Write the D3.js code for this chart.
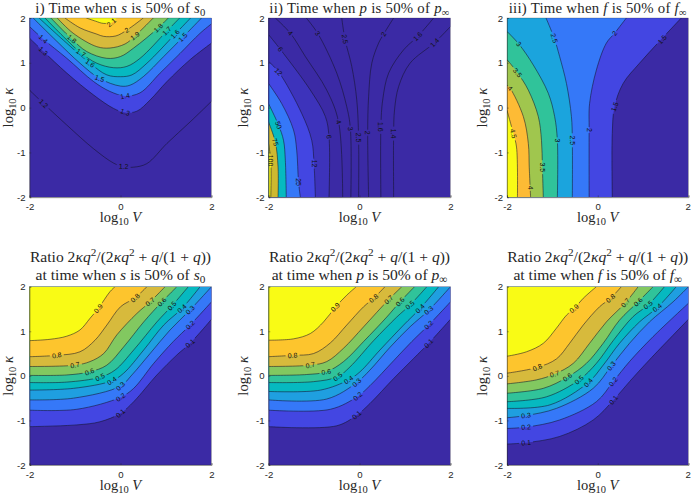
<!DOCTYPE html>
<html><head><meta charset="utf-8">
<script src="https://cdnjs.cloudflare.com/ajax/libs/d3/7.8.5/d3.min.js"></script>
<style>html,body{margin:0;background:#fff}svg{display:block}</style></head><body>
<svg id="c" width="691" height="497"></svg>
<script>
// ---------- values (log10 V, log10 kappa) ----------
const DARK="#3b2aa5", C2="#4346e2", C3="#3578f8", C4="#1ba4dd", C5="#06b9c0", C6="#30c39a", C7="#82c860", C8="#d7ba3c", C9="#fdc52d", C10="#f9fb15";
const s50Levels=[1.2,1.3,1.4,1.5,1.6,1.7,1.8,1.9,2,2.1];
const s50Fills=[DARK,DARK,C2,C3,C4,C5,C6,C7,C8,C9,C10];
const s50Lines=[
[[-2,.39],[-1.69,.09],[-1.18,-.39],[-.59,-.92],[-.15,-1.24],[.07,-1.32],[.29,-1.33],[.58,-1.25],[1.02,-.8],[1.53,-.32],[2,.14]],
[[-2,1.55],[-1.69,1.25],[-1.18,.77],[-.59,.28],[-.15,-.02],[.1,-.11],[.36,-.08],[.65,.17],[1.02,.58],[1.53,1.07],[2,1.44]],
[[-2,1.81],[-1.7,1.53],[-1.18,1.1],[-.59,.58],[-.23,.36],[.1,.26],[.43,.33],[.87,.77],[1.31,1.21],[1.75,1.66],[2,1.87]],
[[-1.92,2],[-1.4,1.48],[-.89,.99],[-.46,.65],[0,.48],[.21,.5],[.5,.69],[.95,1.14],[1.37,1.57],[1.78,2]],
[[-1.79,2],[-1.25,1.5],[-.67,.99],[-.3,.73],[0,.69],[.25,.73],[.58,.99],[1.2,1.64],[1.54,2]],
[[-1.66,2],[-1.25,1.58],[-.87,1.22],[-.52,.99],[-.15,.89],[.14,.92],[.43,1.1],[1.02,1.71],[1.3,2]],
[[-1.53,2],[-1.07,1.53],[-.74,1.25],[-.3,1.1],[0,1.14],[.29,1.33],[.83,1.78],[1.05,2]],
[[-1.39,2],[-1.04,1.66],[-.52,1.36],[-.23,1.33],[.1,1.42],[.32,1.6],[.72,2]],
[[-1.22,2],[-.89,1.78],[-.52,1.64],[-.37,1.59],[-.1,1.6],[.14,1.73],[.5,2]],
[[-.75,2],[-.55,1.93],[-.38,1.88],[-.2,1.9],[-.08,2]]];
const s50Labels=[[0,-1.69,.09],[0,.07,-1.31],[1,-1.7,1.26],[1,.1,-.1],[2,-1.7,1.53],[2,.1,.26],[3,-.46,.65],[3,1.37,1.57],[4,-.67,.99],[4,1.2,1.64],[5,-.87,1.22],[5,1.02,1.71],[6,-1.07,1.53],[6,.83,1.78],[7,.32,1.6],[8,.14,1.73],[9,-.2,1.9]];

const p50Levels=[1.4,1.6,2,2.5,3,4,6,12,25,50,75,100];
const p50Fills=[DARK,DARK,DARK,DARK,DARK,DARK,DARK,"#3d33bb",C2,C3,C5,"#cdb92f",C10];
const p50Lines=[
[[.75,-2],[.75,-.58],[.77,-.05],[.86,.47],[1.11,.99],[1.65,1.45],[2,1.81]],
[[.47,-2],[.47,-.43],[.51,.17],[.64,.77],[.97,1.29],[1.28,1.59],[1.63,2]],
[[.2,-2],[.18,-.56],[.2,.24],[.27,.99],[.42,1.44],[.53,1.64],[.75,2]],
[[-.02,-2],[-.02,-.67],[-.06,.17],[-.17,.92],[-.32,1.53],[-.39,2]],
[[-.19,-2],[-.2,-.47],[-.28,.02],[-.5,.77],[-.92,1.66],[-1.17,2]],
[[-.37,-2],[-.46,-.32],[-.72,.39],[-1.19,1.14],[-1.52,1.66],[-1.85,2]],
[[-.67,-2],[-.67,-.65],[-.75,-.2],[-1.08,.39],[-1.74,1.3],[-2,1.63]],
[[-.97,-2],[-1,-1.25],[-1.05,-.73],[-1.27,-.13],[-1.78,.8],[-2,1.03]],
[[-1.3,-2],[-1.34,-1.66],[-1.38,-.95],[-1.45,-.5],[-1.71,.09],[-2,.54]],
[[-1.61,-2],[-1.63,-1.18],[-1.67,-.73],[-1.78,-.39],[-2,.09]],
[[-1.79,-2],[-1.79,-1.33],[-1.85,-.77],[-2,-.32]],
[[-1.95,-2],[-1.95,-1.18],[-2,-.8]]];
const p50Labels=[[0,.75,-.58],[0,1.65,1.45],[1,.47,-.43],[1,1.28,1.59],[2,.18,-.56],[2,.53,1.64],[3,-.02,-.67],[3,-.32,1.53],[4,-.2,-.47],[4,-.92,1.66],[5,-.46,-.32],[5,-1.52,1.66],[6,-.67,-.65],[6,-1.74,1.3],[7,-1,-1.25],[7,-1.78,.8],[8,-1.34,-1.66],[9,-1.78,-.39],[10,-1.85,-.77],[11,-1.95,-1.18]];

const f50Levels=[1.5,2,2.5,3,3.5,4,4.5];
const f50Fills=[DARK,C2,C3,C4,C6,"#a0c64e","#fdbb35",C10];
const f50Lines=[
[[.32,-2],[.32,-.58],[.37,.02],[.56,.54],[.92,.99],[1.36,1.48],[1.84,2]],
[[-.19,-2],[-.19,-.5],[-.18,.09],[-.03,.84],[.19,1.44],[.37,1.66],[.63,2]],
[[-.56,-2],[-.56,-.73],[-.58,-.2],[-.69,.54],[-.84,1.14],[-.96,1.55],[-1.14,2]],
[[-.89,-2],[-.89,-.73],[-.95,-.2],[-1.09,.32],[-1.42,.95],[-1.74,1.42],[-2,1.7]],
[[-1.2,-2],[-1.22,-1.33],[-1.24,-.73],[-1.31,-.2],[-1.53,.39],[-1.77,.78],[-2,1.07]],
[[-1.48,-2],[-1.51,-1.33],[-1.53,-.8],[-1.64,-.2],[-1.93,.43],[-2,.5]],
[[-1.77,-2],[-1.79,-.88],[-1.86,-.58],[-2,-.06]]];
const f50Labels=[[0,.37,.02],[0,1.42,1.52],[1,-.19,-.5],[1,.37,1.66],[2,-.56,-.73],[2,-.96,1.55],[3,-.89,-.73],[3,-1.74,1.42],[4,-1.22,-1.33],[4,-1.77,.78],[5,-1.49,-1.79],[5,-1.93,.43],[6,-1.86,-.58]];

const ratioLevels=[.1,.2,.3,.4,.5,.6,.7,.8,.9];
const ratioFills=[DARK,C2,C3,"#1f9fe0",C5,C6,C7,C8,C9,C10];
const ratioSLines=[
[[-2,-1.14],[-.96,-1.1],[-.45,-1.03],[0,-.84],[.29,-.58],[.8,.02],[1.24,.47],[1.53,.73],[2,1.27]],
[[-2,-.77],[-.96,-.75],[0,-.48],[.29,-.28],[.73,.28],[1.16,.77],[1.53,1.14],[2,1.66]],
[[-2,-.54],[-1.03,-.5],[0,-.23],[.25,.02],[.65,.5],[1.09,1.03],[1.53,1.48],[2,2]],
[[-2,-.32],[-1.03,-.28],[-.19,-.11],[.07,.06],[.51,.58],[.95,1.14],[1.35,1.51],[1.75,2]],
[[-2,-.15],[-1.18,-.14],[-.45,-.03],[-.12,.13],[.29,.58],[.8,1.21],[1.13,1.57],[1.49,2]],
[[-2,.01],[-1.18,.02],[-.68,.09],[-.3,.24],[.07,.65],[.51,1.21],[.91,1.66],[1.24,2]],
[[-2,.21],[-1,.24],[-.67,.32],[-.37,.5],[-.08,.92],[.36,1.4],[.65,1.66],[.98,2]],
[[-2,.43],[-1.4,.46],[-.89,.54],[-.56,.8],[-.3,1.14],[0,1.55],[.32,1.75],[.58,2]],
[[-2,.79],[-1.55,.82],[-1.18,.89],[-.89,1.03],[-.67,1.29],[-.49,1.51],[-.23,1.89],[-.12,2]]];
const ratioSLabels=[[0,0,-.84],[0,1.53,.73],[1,0,-.48],[1,1.53,1.14],[2,0,-.23],[2,1.53,1.48],[3,-.19,-.11],[3,1.35,1.51],[4,-.45,-.03],[4,1.13,1.57],[5,-.68,.09],[5,.91,1.66],[6,-1,.24],[6,.65,1.66],[7,-1.4,.46],[7,.32,1.75],[8,-.49,1.51]];

const ratioPLines=[
[[-2,-1.14],[-.5,-1.12],[-.06,-.88],[.23,-.62],[.75,-.06],[1.19,.39],[1.52,.73],[2,1.27]],
[[-2,-.77],[-.64,-.75],[-.04,-.46],[.23,-.22],[.75,.34],[1.15,.77],[1.52,1.14],[2,1.66]],
[[-2,-.54],[-.72,-.52],[-.06,-.15],[.23,.13],[.67,.64],[1.11,1.1],[1.52,1.47],[2,2]],
[[-2,-.35],[-.86,-.32],[-.24,-.09],[.01,.09],[.45,.58],[.97,1.14],[1.33,1.51],[1.74,2]],
[[-2,-.15],[-1.01,-.13],[-.48,-.02],[-.21,.2],[.31,.79],[.82,1.32],[1.11,1.59],[1.48,2]],
[[-2,.01],[-1.16,.03],[-.73,.09],[-.35,.32],[.09,.77],[.6,1.32],[.89,1.66],[1.21,2]],
[[-2,.21],[-1.08,.24],[-.72,.32],[-.35,.62],[.09,1.1],[.64,1.71],[.93,2]],
[[-2,.43],[-1.47,.46],[-1.01,.5],[-.64,.74],[-.28,1.14],[.09,1.55],[.31,1.74],[.56,2]],
[[-2,.8],[-1.45,.83],[-1.08,.95],[-.79,1.21],[-.53,1.54],[-.28,1.81],[-.07,2]]];
const ratioPLabels=[[0,-.06,-.88],[0,1.52,.73],[1,-.04,-.46],[1,1.52,1.14],[2,-.06,-.15],[2,1.52,1.47],[3,-.24,-.09],[3,1.33,1.51],[4,-.48,-.02],[4,1.11,1.59],[5,-.73,.09],[5,.89,1.66],[6,-1.08,.24],[6,.64,1.71],[7,-1.47,.46],[7,.31,1.74],[8,-.53,1.54]];

const ratioFLines=[
[[-2,-1.53],[-1.58,-1.5],[-.84,-1.36],[-.1,-.99],[.35,-.54],[.7,-.13],[1.14,.36],[2,1.27]],
[[-2,-1.18],[-1.58,-1.15],[-.84,-.99],[-.03,-.58],[.34,-.13],[.7,.32],[1.22,.88],[2,1.63]],
[[-2,-.94],[-1.58,-.89],[-.91,-.73],[-.1,-.28],[.3,.22],[.7,.73],[1.14,1.21],[1.66,1.66],[2,2]],
[[-2,-.73],[-1.05,-.65],[-.21,-.15],[.12,.24],[.48,.73],[.92,1.21],[1.31,1.53],[1.73,2]],
[[-2,-.58],[-1.13,-.47],[-.41,-.09],[-.03,.28],[.34,.79],[.78,1.33],[1.11,1.59],[1.47,2]],
[[-2,-.39],[-1.2,-.28],[-.67,-.03],[-.25,.28],[.12,.73],[.48,1.25],[.89,1.66],[1.22,2]],
[[-2,-.18],[-1.35,-.09],[-.95,.04],[-.54,.28],[-.18,.73],[.19,1.21],[.61,1.64],[.89,2]],
[[-2,.06],[-1.33,.19],[-.91,.38],[-.62,.73],[-.32,1.14],[.04,1.55],[.28,1.74],[.52,2]],
[[-2,.44],[-1.57,.54],[-1.2,.73],[-.91,1.07],[-.69,1.36],[-.52,1.51],[-.32,1.74],[-.03,2]]];
const ratioFLabels=[[0,-1.58,-1.5],[0,.35,-.54],[1,-1.58,-1.15],[1,.34,-.13],[2,-1.58,-.89],[2,.3,.22],[3,-.21,-.15],[3,1.31,1.53],[4,-.41,-.09],[4,1.11,1.59],[5,-.67,-.03],[5,.89,1.66],[6,-.95,.04],[6,.61,1.64],[7,-1.33,.19],[7,.28,1.74],[8,-.52,1.51]];

const xTicks=[-2,0,2], yTicks=[-2,-1,0,1,2];
const ratioTitle=[["Ratio 2"],["κ","i"],["q","i"],["2","sup"],["/(2"],["κ","i"],["q","i"],["2","sup"],[" + "],["q","i"],["/(1 + "],["q","i"],["))"]];
const atTime=(v,sub)=>[["at time when "],[v,"i"],[" is 50% of "],[v,"i"],[sub,"sub"]];
const panels=[
 {col:0,row:0,levels:s50Levels,fills:s50Fills,lines:s50Lines,labels:s50Labels,title:[[["i) Time when "],["s","i"],[" is 50% of "],["s","i"],["0","sub"]]]},
 {col:1,row:0,levels:p50Levels,fills:p50Fills,lines:p50Lines,labels:p50Labels,title:[[["ii) Time when "],["p","i"],[" is 50% of "],["p","i"],["∞","sub"]]]},
 {col:2,row:0,levels:f50Levels,fills:f50Fills,lines:f50Lines,labels:f50Labels,title:[[["iii) Time when "],["f","i"],[" is 50% of "],["f","i"],["∞","sub"]]]},
 {col:0,row:1,levels:ratioLevels,fills:ratioFills,lines:ratioSLines,labels:ratioSLabels,title:[ratioTitle,atTime("s","0")]},
 {col:1,row:1,levels:ratioLevels,fills:ratioFills,lines:ratioPLines,labels:ratioPLabels,title:[ratioTitle,atTime("p","∞")]},
 {col:2,row:1,levels:ratioLevels,fills:ratioFills,lines:ratioFLines,labels:ratioFLabels,title:[ratioTitle,atTime("f","∞")]}
];

// ---------- layout ----------
const colX=[[29.5,211.5],[268.5,450.5],[507,688.5]];
const rowY=[[18,197.2],[286.7,465]];
const ylabX=[13,248,487];
const svg=d3.select("#c");
const defs=svg.append("defs");
const SERIF="'Liberation Serif','Times New Roman',serif", SANS="'Liberation Sans',Arial,sans-serif";

function richText(g,x,y,segs,size,extra={}){
  const t=g.append("text").attr("x",x).attr("y",y).attr("text-anchor","middle")
    .attr("font-family",SERIF).attr("font-size",size).attr("fill","#262626");
  Object.entries(extra).forEach(([k,v])=>t.attr(k,v));
  let shift=0;
  segs.forEach(([s,k])=>{
    const sp=t.append("tspan").text(s);
    let target=0;
    if(k==="i") sp.attr("font-style","italic");
    if(k==="sup"){target=-size*.38;sp.attr("font-size",size*.72);}
    if(k==="sub"){target=size*.22;sp.attr("font-size",size*.72);}
    sp.attr("dy",target-shift); shift=target;
  });
}
// position of a point on the ccw perimeter of the [-2,2] square
const perim=([x,y])=>{
  if(Math.abs(y+2)<1e-6) return x+2;
  if(Math.abs(x-2)<1e-6) return 4+(y+2);
  if(Math.abs(y-2)<1e-6) return 8+(2-x);
  return 12+(2-y);
};
const corners=[[4,[2,-2]],[8,[2,2]],[12,[-2,2]],[16,[-2,-2]]];

panels.forEach((p,i)=>{
  const [x0,x1]=colX[p.col],[y0,y1]=rowY[p.row];
  const x=d3.scaleLinear([-2,2],[x0,x1]), y=d3.scaleLinear([-2,2],[y1,y0]);
  const g=svg.append("g");
  const clip="clip"+i, mask="mask"+i;
  defs.append("clipPath").attr("id",clip).append("rect").attr("x",x0).attr("y",y0).attr("width",x1-x0).attr("height",y1-y0);
  const line=d3.line().x(d=>x(d[0])).y(d=>y(d[1])).curve(d3.curveCatmullRom.alpha(.5));

  const plot=g.append("g").attr("clip-path",`url(#${clip})`);
  plot.append("rect").attr("x",x0).attr("y",y0).attr("width",x1-x0).attr("height",y1-y0).attr("fill",p.fills[0]);
  plot.selectAll("path.band").data(p.lines).join("path").attr("class","band")
    .attr("fill",(d,k)=>p.fills[k+1])
    .attr("d",d=>{
      const a=perim(d[d.length-1]); let b=perim(d[0]); if(b<a) b+=16;
      const walk=[];
      for(const off of [0,16]) corners.forEach(([t,c])=>{const T=t+off; if(T>a&&T<b) walk.push(c);});
      return line(d)+walk.map(c=>`L${x(c[0])},${y(c[1])}`).join("")+"Z";
    });

  // label geometry: the angle follows the contour under the label
  const labels=p.labels.map(([k,lx,ly])=>{
    const pts=p.lines[k].map(q=>[x(q[0]),y(q[1])]);
    const px=x(lx),py=y(ly);
    let best=0,bd=Infinity;
    for(let s=0;s<pts.length-1;s++){
      const mx=(pts[s][0]+pts[s+1][0])/2,my=(pts[s][1]+pts[s+1][1])/2;
      const dd=(mx-px)**2+(my-py)**2; if(dd<bd){bd=dd;best=s;}
    }
    let ang=Math.atan2(pts[best+1][1]-pts[best][1],pts[best+1][0]-pts[best][0])*180/Math.PI;
    if(ang>90)ang-=180; if(ang<=-90)ang+=180;
    if(Math.abs(Math.abs(ang)-90)<8) ang=90;
    return {text:String(p.levels[k]),x:px,y:py,ang};
  });
  const m=defs.append("mask").attr("id",mask).attr("maskUnits","userSpaceOnUse")
    .attr("x",x0).attr("y",y0).attr("width",x1-x0).attr("height",y1-y0);
  m.append("rect").attr("x",x0).attr("y",y0).attr("width",x1-x0).attr("height",y1-y0).attr("fill","#fff");
  m.selectAll("rect.gap").data(labels).join("rect").attr("class","gap").attr("fill","#000")
    .attr("x",d=>-(d.text.length*2+1)).attr("y",-2.5).attr("width",d=>2*(d.text.length*2+1)).attr("height",5)
    .attr("transform",d=>`translate(${d.x},${d.y}) rotate(${d.ang})`);
  plot.append("g").attr("mask",`url(#${mask})`).selectAll("path").data(p.lines).join("path")
    .attr("fill","none").attr("stroke","#141428").attr("stroke-width",.55).attr("d",line);
  plot.selectAll("text").data(labels).join("text")
    .attr("text-anchor","middle").attr("dy","0.35em").attr("font-family",SANS).attr("font-size",6.9).attr("fill","#111")
    .attr("transform",d=>`translate(${d.x},${d.y}) rotate(${d.ang})`).text(d=>d.text);

  // faint box, then axes
  g.append("rect").attr("x",x0).attr("y",y0).attr("width",x1-x0).attr("height",y1-y0)
    .attr("fill","none").attr("stroke","#262626").attr("stroke-width",.4).attr("stroke-opacity",.6);
  const fmt=d=>String(d);
  const ax=g.append("g").attr("transform",`translate(0,${y1})`)
    .call(d3.axisBottom(x).tickValues(xTicks).tickSize(-1.8).tickPadding(6).tickFormat(fmt));
  const ay=g.append("g").attr("transform",`translate(${x0},0)`)
    .call(d3.axisLeft(y).tickValues(yTicks).tickSize(-1.8).tickPadding(4).tickFormat(fmt));
  [ax,ay].forEach(a=>{
    a.selectAll("path.domain").attr("stroke","#262626").attr("stroke-width",.4);
    a.selectAll("line").attr("stroke","#262626").attr("stroke-width",.4);
    a.selectAll("text").attr("font-family",SANS).attr("font-size",9.6).attr("fill","#262626");
  });
  if(p.col===2) ax.selectAll(".tick:last-of-type text").attr("dx",-0.8);

  // titles and axis labels
  const cx=(x0+x1)/2;
  if(p.row===0) richText(g,cx,13.2,p.title[0],14.8,{"letter-spacing":.25});
  else { richText(g,cx,262,p.title[0],15.6); richText(g,cx,279.5,p.title[1],15.6); }
  richText(g,cx,y1+25,[["log"],["10","sub"],[" "],["V","i"]],14.5);
  const my=(y0+y1)/2;
  richText(g,0,0,[["log"],["10","sub"],[" "],["κ","i"]],14.5,{transform:`translate(${ylabX[p.col]},${my}) rotate(-90)`});
});
</script></body></html>
